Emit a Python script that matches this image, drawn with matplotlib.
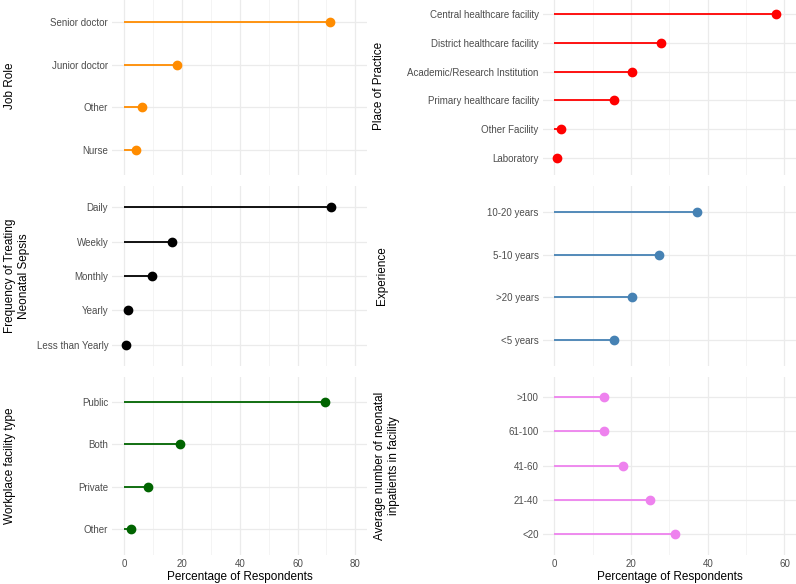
import matplotlib.pyplot as plt

plt.rcParams['font.family'] = ['Liberation Sans', 'DejaVu Sans']

# data, top to bottom as drawn
job_roles = ["Senior doctor", "Junior doctor", "Other", "Nurse"]
job_pct = [71.2, 18.3, 6.1, 4.1]

places = ["Central healthcare facility", "District healthcare facility",
          "Academic/Research Institution", "Primary healthcare facility",
          "Other Facility", "Laboratory"]
place_pct = [57.9, 27.8, 20.2, 15.5, 1.8, 0.7]

freq = ["Daily", "Weekly", "Monthly", "Yearly", "Less than Yearly"]
freq_pct = [71.7, 16.6, 9.6, 1.4, 0.7]

experience = ["10-20 years", "5-10 years", ">20 years", "<5 years"]
exp_pct = [37.3, 27.2, 20.2, 15.5]

facility = ["Public", "Both", "Private", "Other"]
facility_pct = [69.4, 19.5, 8.4, 2.6]

inpatients = [">100", "61-100", "41-60", "21-40", "<20"]
inpat_pct = [13.0, 13.0, 17.8, 25.0, 31.4]

fig = plt.figure(figsize=(7.96, 5.84), dpi=100)

W = 796.0
H = 584.0

def make_ax(x0, x1, y0, y1):
    return fig.add_axes([x0 / W, 1 - y1 / H, (x1 - x0) / W, (y1 - y0) / H])

def lollipop(ax, cats, vals, color, ylabel, xlim, ticks, label_x, bottom=False):
    n = len(cats)
    ys = list(range(n))[::-1]
    ax.hlines(ys, 0, vals, color=color, lw=1.3, zorder=3)
    ax.plot(vals, ys, 'o', color=color, ms=6, zorder=4)
    ax.set_ylim(-0.6, n - 1 + 0.6)
    ax.set_xlim(*xlim)
    ax.set_yticks(ys)
    ax.set_yticklabels(cats)
    ax.set_xticks(ticks)
    minor = [t + 10 for t in ticks[:-1]]
    ax.set_xticks(minor, minor=True)
    ax.grid(True, which='major', color='#ebebeb', lw=0.9, zorder=0)
    ax.grid(True, which='minor', axis='x', color='#f2f2f2', lw=0.6, zorder=0)
    for sp in ax.spines.values():
        sp.set_visible(False)
    ax.tick_params(axis='both', which='both', length=0, labelsize=7,
                   labelcolor='#4d4d4d', pad=3)
    lab = ax.set_ylabel(ylabel, fontsize=8.5)
    lab.set_va('top')
    pos = ax.get_position()
    ax.yaxis.set_label_coords((label_x - pos.x0 * W) / (pos.width * W), 0.5)
    if bottom:
        ax.set_xlabel("Percentage of Respondents", fontsize=8.5, labelpad=2)
    else:
        ax.tick_params(axis='x', labelbottom=False)

left_x = (112.4, 367)
right_x = (542.8, 796)
rows = [(-3, 175), (186.4, 365.6), (376.5, 554.5)]
left_ticks = [0, 20, 40, 60, 80]
right_ticks = [0, 20, 40, 60]

ax = make_ax(left_x[0], left_x[1], *rows[0])
lollipop(ax, job_roles, job_pct, '#ff8c00', "Job Role", (-4, 84), left_ticks, 4)

ax = make_ax(right_x[0], right_x[1], *rows[0])
lollipop(ax, places, place_pct, '#ff0000', "Place of Practice", (-3, 63), right_ticks, 373)

ax = make_ax(left_x[0], left_x[1], *rows[1])
lollipop(ax, freq, freq_pct, '#000000', "Frequency of Treating\nNeonatal Sepsis",
         (-4, 84), left_ticks, 4)

ax = make_ax(right_x[0], right_x[1], *rows[1])
lollipop(ax, experience, exp_pct, '#4682b4', "Experience", (-3, 63), right_ticks, 376)

ax = make_ax(left_x[0], left_x[1], *rows[2])
lollipop(ax, facility, facility_pct, '#006400', "Workplace facility type",
         (-4, 84), left_ticks, 4, bottom=True)

ax = make_ax(right_x[0], right_x[1], *rows[2])
lollipop(ax, inpatients, inpat_pct, '#ee82ee', "Average number of neonatal\ninpatients in facility",
         (-3, 63), right_ticks, 374, bottom=True)

fig.savefig("out.png", dpi=100)
